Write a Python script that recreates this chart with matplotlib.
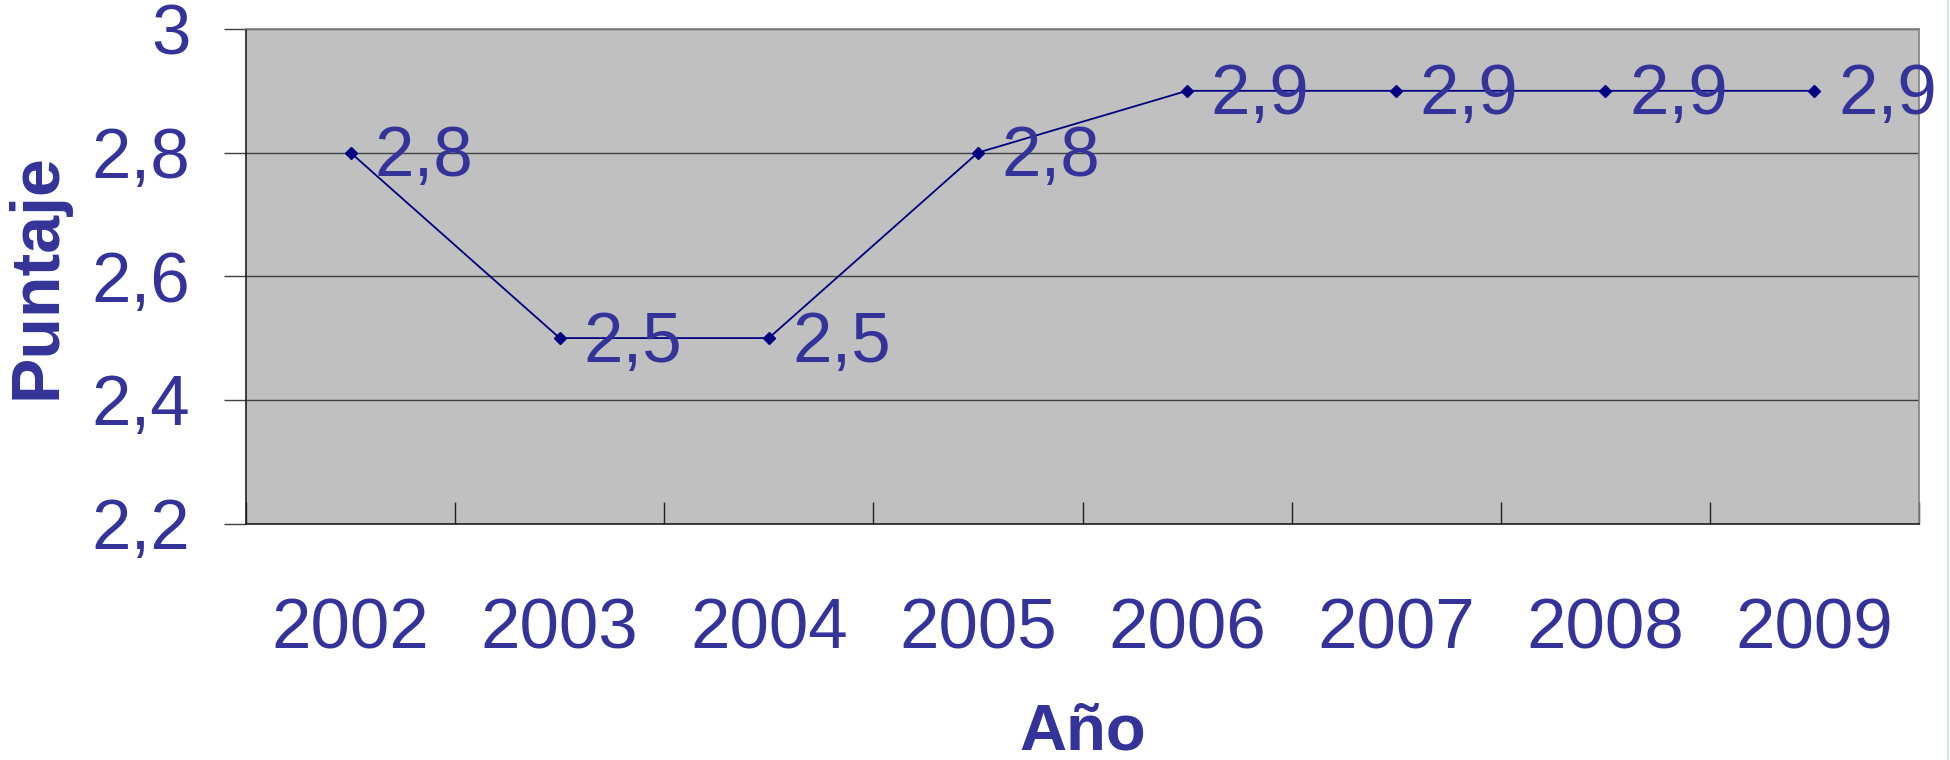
import matplotlib
matplotlib.use("Agg")
from matplotlib import pyplot as plt
from matplotlib.lines import Line2D

years = ["2002", "2003", "2004", "2005", "2006", "2007", "2008", "2009"]
puntaje = [2.8, 2.5, 2.5, 2.8, 2.9, 2.9, 2.9, 2.9]
y_ticks = [2.2, 2.4, 2.6, 2.8, 3.0]

TXT = "#333399"
FS = 51
plt.rcParams["font.family"] = ["Liberation Sans", "DejaVu Sans"]


def fmt(v):
    # comma decimal, no trailing zero
    return f"{v:g}".replace(".", ",")


fig = plt.figure(figsize=(19.5, 7.6), dpi=100)
ax = fig.add_axes([246 / 1950, 1 - 523.5 / 760, (1919 - 246) / 1950, (523.5 - 29) / 760])
ax.set_facecolor("#C0C0C0")

x = list(range(len(years)))
ax.plot(x, puntaje, color="#000080", lw=1.3, marker="D", ms=6.5, mfc="#000080", mec="#000080", zorder=3)
for xi, v in zip(x, puntaje):
    ax.annotate(fmt(v), (xi, v), xytext=(17, -17), textcoords="offset points",
                ha="left", va="baseline", fontsize=FS, color=TXT, zorder=4)

ax.set_xlim(-0.5, len(years) - 0.5)
ax.set_ylim(2.2, 3.0)
ax.set_yticks(y_ticks)
ax.set_yticklabels([fmt(v) for v in y_ticks])
ax.yaxis.grid(True, color="#404040", lw=1.0)
ax.set_axisbelow(True)

# category labels centred, tick marks at slot boundaries
ax.set_xticks(x)
ax.set_xticklabels(years)
ax.set_xticks([i - 0.5 for i in range(len(years) + 1)], minor=True)
ax.tick_params(axis="x", which="major", length=0, pad=53, labelsize=FS, labelcolor=TXT)
ax.tick_params(axis="x", which="minor", direction="in", length=16, width=1.0, color="#202020")
ax.tick_params(axis="y", direction="out", length=16, width=1.0, color="#404040",
               pad=24, labelsize=FS, labelcolor=TXT)

for side in ["top", "right"]:
    ax.spines[side].set_color("#808080")
    ax.spines[side].set_linewidth(1.2)
for side in ["left", "bottom"]:
    ax.spines[side].set_color("#202020")
    ax.spines[side].set_linewidth(1.2)

ax.set_xlabel("Año", fontsize=47, fontweight="bold", color=TXT, labelpad=28)
ax.set_ylabel("Puntaje", fontsize=49, fontweight="bold", color=TXT, labelpad=16)

# thin frame edge at far right
fig.add_artist(Line2D([1948 / 1950, 1948 / 1950], [0, 1], color="#D8E4F0", lw=1.5))

fig.savefig("out.png", dpi=100)
